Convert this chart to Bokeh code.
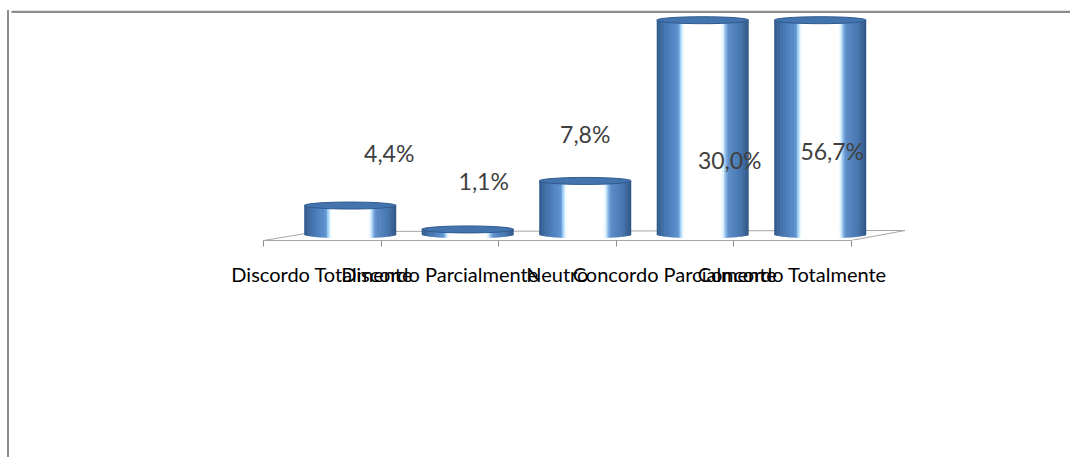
import numpy as np
from bokeh.plotting import figure
from bokeh.models import (Range1d, LinearAxis, FixedTicker, BoxAnnotation,
                          ColumnDataSource, AllLabels)
from bokeh.core.properties import value
from bokeh.embed import file_html
from bokeh.resources import INLINE

# ---------------- data ----------------
categories = ["Discordo Totalmente", "Discordo Parcialmente", "Neutro",
              "Concordo Parcialmente", "Concordo Totalmente"]
percentages = [4.4, 1.1, 7.8, 30.0, 56.7]

# ---------------- layout / style ----------------
OX, OY = 9, 10                 # page position of the canvas
W, H = 1072 - OX, 457 - OY
PX_X = 117.5                   # pixels per category slot
PX_Y = 7.24                    # pixels per percentage point
BOUND0_X = 263.0               # page x of first category boundary
ZERO_Y = 236.9                 # page y of value 0
FRONT_Y = 240.0                # page y of front floor edge (axis line)
BASE_Y = 234.0                 # page y of cylinder base centre
Y_MAX = 30.0                   # axis maximum; taller bars are cut off
DEPTH_SHIFT = 0.238            # 3-D depth shift of cylinders (category units)
BAR_W = 92 / PX_X
CAP_H = 7 / PX_Y
BASE_HALF = 3.8 / PX_Y
N_STRIPS = 60

to_y = lambda page_y: (ZERO_Y - page_y) / PX_Y
y_front = to_y(FRONT_Y)
y_base = to_y(BASE_Y)
x_range = Range1d((OX - BOUND0_X) / PX_X, (OX + W - BOUND0_X) / PX_X)
y_range = Range1d(y_front, to_y(OY))

p = figure(width=W, height=H, x_range=x_range, y_range=y_range,
           x_axis_type=None, y_axis_type=None, toolbar_location=None,
           output_backend="svg", min_border_left=0, min_border_right=0,
           min_border_top=0, min_border_bottom=int(457 - FRONT_Y),
           outline_line_color=None, background_fill_color="white",
           border_fill_color="white")
p.styles = {"margin-left": "7px", "margin-top": "%dpx" % OY,
            "border-left": "2px solid #8c8c8c"}

# chart-area frame, top edge
p.add_layout(BoxAnnotation(left=0, right=W, top=0, bottom=2.5,
                           left_units="canvas", right_units="canvas",
                           top_units="canvas", bottom_units="canvas",
                           fill_color="#8c8c8c", fill_alpha=1, line_color=None))

n = len(categories)
# floor (sides and back edge; front edge is the axis line)
p.line([0, 0.46, n + 0.46, n],
       [y_front, to_y(231), to_y(230), y_front],
       line_color="#a6a6a6", line_width=1)

# cylinder shading
stops = [(0.00, "#30588a"), (0.08, "#4372ab"), (0.16, "#5284c1"),
         (0.235, "#5c90cd"), (0.26, "#9fd2fb"), (0.285, "#f2fbff"),
         (0.31, "#ffffff"), (0.70, "#ffffff"), (0.725, "#d8efff"),
         (0.75, "#86b6e8"), (0.78, "#5a8bc6"), (0.90, "#4a79b2"),
         (1.00, "#2d5482")]
st = np.array([s[0] for s in stops])
rgb = np.array([[int(c[i:i + 2], 16) for i in (1, 3, 5)] for _, c in stops], float)


def shade(t):
    r = [np.interp(t, st, rgb[:, k]) for k in range(3)]
    return "#%02x%02x%02x" % tuple(int(round(v)) for v in r)


vals = np.array(percentages, float)
shown = np.minimum(vals, Y_MAX)
centers = np.arange(n) + 0.5 + DEPTH_SHIFT

lefts, rights, tops, bottoms, cols = [], [], [], [], []
tgrid = (np.arange(N_STRIPS) + 0.5) / N_STRIPS
for cx, hv in zip(centers, shown):
    for k, tm in enumerate(tgrid):
        l = cx - BAR_W / 2 + k * BAR_W / N_STRIPS
        r = min(l + BAR_W / N_STRIPS * 1.35, cx + BAR_W / 2)
        lefts.append(l)
        rights.append(r)
        tops.append(hv)
        bottoms.append(y_base - BASE_HALF * np.sqrt(max(0.0, 1 - (2 * tm - 1) ** 2)))
        cols.append(shade(tm))

p.quad(left=lefts, right=rights, top=tops, bottom=bottoms,
       fill_color=cols, line_color=None)

# cylinder tops
p.ellipse(x=centers, y=shown, width=BAR_W, height=CAP_H,
          fill_color="#4474ae", line_color="#2f5a8e", line_width=1)

# data labels
labels = [("%.1f%%" % v).replace(".", ",") for v in percentages]
clipped = vals >= Y_MAX
label_y = np.where(clipped, Y_MAX * 0.36, shown)
dx_px = [39, 16, 0, 27, 12]
dy_px = [-53, -48, -47, 1, -8]
src = ColumnDataSource(dict(x=centers, y=label_y, t=labels, xo=dx_px, yo=dy_px))
p.text(x="x", y="y", text="t", x_offset="xo", y_offset="yo", source=src,
       text_font=value("Lato"), text_font_size="23px", text_color="#404040",
       text_align="center", text_baseline="middle")

# category axis: slot boundaries as ticks, names centred in slots
axis = LinearAxis(ticker=FixedTicker(ticks=[i + 0.5 for i in range(n)],
                                     minor_ticks=list(range(n + 1))),
                  bounds=(0, n))
axis.major_label_overrides = {i + 0.5: c for i, c in enumerate(categories)}
axis.major_label_policy = AllLabels()
axis.axis_line_color = "#a6a6a6"
axis.axis_line_width = 1
axis.major_tick_line_color = None
axis.major_tick_out = 0
axis.major_tick_in = 0
axis.minor_tick_line_color = "#8c8c8c"
axis.minor_tick_out = 6
axis.minor_tick_in = 0
axis.major_label_standoff = 15
axis.major_label_text_font = "Lato"
axis.major_label_text_font_size = "20px"
axis.major_label_text_color = "#000000"
p.add_layout(axis, "below")

open("out.html", "w").write(file_html(p, INLINE))
